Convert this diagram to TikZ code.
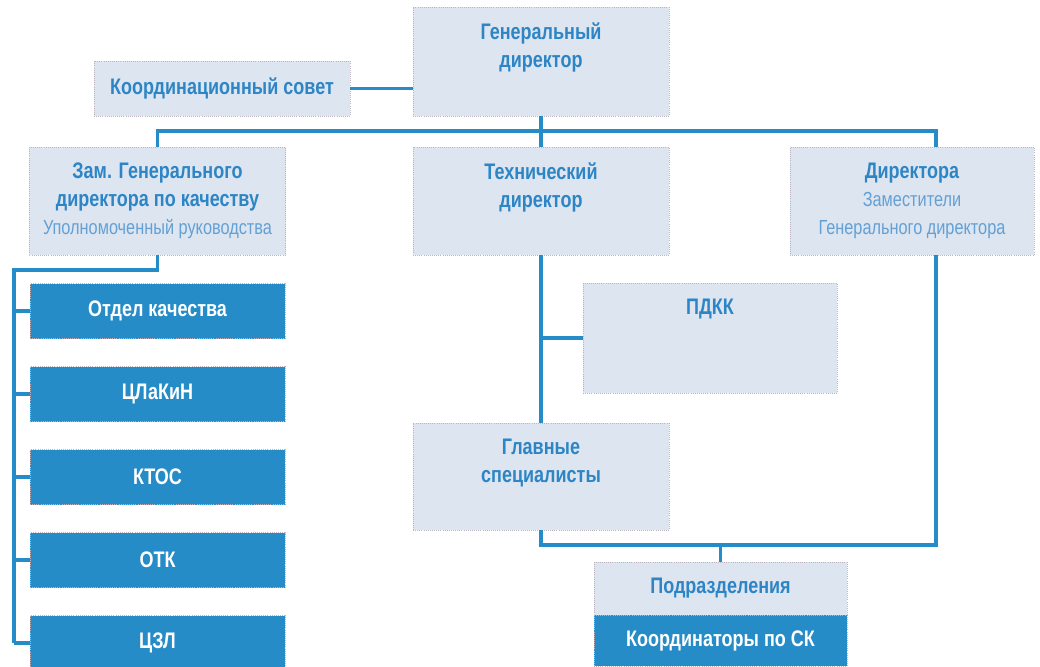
\documentclass[tikz,border=0pt]{standalone}
\usepackage{fontspec}
\setmainfont{Liberation Sans}[FakeStretch=0.8]
\usetikzlibrary{calc}

\definecolor{orgblue}{RGB}{38,140,200}
\definecolor{orgpale}{RGB}{220,229,240}
\definecolor{orgtext}{RGB}{45,133,197}
\definecolor{orgsub}{RGB}{100,160,212}
\definecolor{orgedge}{RGB}{188,180,192}
\newcommand{\subf}{\fontsize{14.5}{20}\selectfont\mdseries\color{orgsub}}

\begin{document}
\begin{tikzpicture}[
  x=0.025cm, y=-0.025cm,
  every node/.style={inner sep=0pt, font=\fontsize{16}{20}\selectfont\bfseries},
  pale/.style={rectangle,fill=orgpale,draw=orgedge,densely dotted,line width=0.5pt,text=orgtext,align=center},
  dark/.style={rectangle,fill=orgblue,draw=orgedge,densely dotted,line width=0.5pt,text=white,align=center},
  bigbox/.style={minimum width=6.4cm,minimum height=2.7cm},
  flatbox/.style={minimum width=6.375cm,minimum height=1.375cm},
  ttl/.style={anchor=north,yshift=-0.4cm,align=center,text=orgtext},
  conn/.style={draw=orgblue,line width=2.8pt,solid}
]
\useasboundingbox (0,0) rectangle (1040,666);
% ================= top level =================
\node[pale,bigbox,minimum height=2.725cm,label={[ttl]north:Генеральный\\директор}] (gen) at (541,61.5) {};
\node[pale,flatbox,minimum width=6.4cm] (koord) at (222,88.5) {Координационный совет};
\coordinate (busR) at (936,131);
% ================= second level =================
\node[pale,bigbox,label={[ttl]north:Зам. Генерального\\директора по качеству\\{\subf Уполномоченный руководства}}] (zam) at (157.5,201) {};
\node[pale,bigbox,label={[ttl]north:Технический\\директор}] (tech) at (541,201) {};
\node[pale,bigbox,minimum width=6.1cm,label={[ttl]north:Директора\\{\subf Заместители}\\{\subf Генерального директора}}] (dir) at (912,201) {};
% ================= quality departments =================
\coordinate (spine) at (14,270);
\foreach \txt [count=\i] in {Отдел качества,ЦЛаКиН,КТОС,ОТК,ЦЗЛ}
  \node[dark,flatbox] (dep\i) at (157.5,{228+83*\i}) {\txt};
% ================= technical branch =================
\node[pale,bigbox,minimum width=6.35cm,minimum height=2.75cm,label={[ttl]north:ПДКК}] (pdkk) at (710,338) {};
\node[pale,bigbox,minimum height=2.675cm,label={[ttl]north:Главные\\специалисты}] (glav) at (541,476.5) {};
\coordinate (jR) at (936,545);
\node[pale,minimum width=6.325cm,minimum height=1.325cm] (podr) at (720.5,588.5) {Подразделения};
\node[dark,minimum width=6.325cm,minimum height=1.275cm] (koordsk) at (720.5,640.5) {Координаторы по СК};
% ================= connectors =================
\draw[conn] (koord.east) -- (koord.east -| gen.west);
\draw[conn] (gen.south) -- (tech.north);
\draw[conn] (zam.north) |- (busR) -- (busR |- dir.north);
\draw[conn] (zam.south) |- (spine) -- (spine |- dep5.west);
\foreach \i in {1,...,5}
  \draw[conn] (spine |- dep\i.west) -- (dep\i.west);
\draw[conn] (tech.south) -- (glav.north);
\draw[conn] (tech.south |- pdkk.west) -- (pdkk.west);
\draw[conn] (glav.south) |- (jR) -- (jR |- dir.south);
\draw[conn] (podr.north) -- (podr.north |- jR);
\end{tikzpicture}
\end{document}
